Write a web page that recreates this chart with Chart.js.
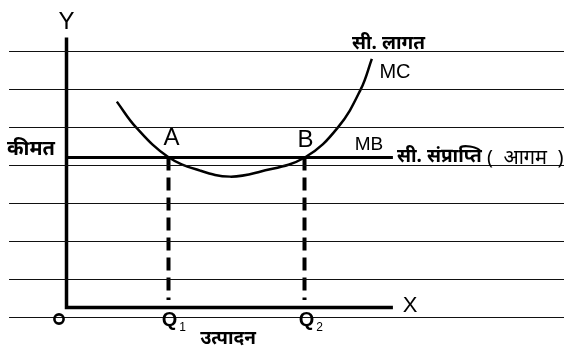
<!DOCTYPE html>
<html>
<head>
<meta charset="utf-8">
<script src="https://cdn.jsdelivr.net/npm/chart.js@4.4.1/dist/chart.umd.min.js"></script>
<style>
  html, body { margin: 0; background: #fff; }
  #wrap { width: 564px; height: 360px; }
</style>
</head>
<body>
<div id="wrap"><canvas id="chart"></canvas></div>
<script>
// diagram units: x = quantity (उत्पादन), y = price (कीमत)
const mcX = [1.48, 2.04, 2.98, 3.93, 4.81, 5.69, 7.01, 7.99, 8.66, 8.98];
const mcY = [5.49, 4.81, 4.02, 3.65, 3.49, 3.62, 4.00, 4.81, 5.83, 6.63];
const mbPrice = 4;
const q1 = 3;
const q2 = 7;
const axisXEnd = 9.6;
const axisYEnd = 7.2;
const ruledLines = [0, 1, 2, 3, 4, 5, 6, 7]; // ruled paper lines

const ink = '#000';
const latin = "'Liberation Sans', Arial, sans-serif";
const deva = "'Noto Sans', 'Lohit Devanagari', 'FreeSans', sans-serif";

const mcData = mcX.map((x, i) => ({ x: x, y: mcY[i] }));

// ruled lines as one broken line (null breaks between rows)
const ruledData = [];
ruledLines.forEach(v => {
  ruledData.push({ x: -1.69, y: v }, { x: 14.7, y: v }, { x: 14.7, y: null });
});

const labelsPlugin = {
  id: 'labels',
  afterDatasetsDraw(chart) {
    const ctx = chart.ctx;
    const xs = chart.scales.x;
    const ys = chart.scales.y;
    ctx.save();
    ctx.fillStyle = ink;
    ctx.strokeStyle = ink;
    ctx.textAlign = 'center';
    ctx.textBaseline = 'middle';

    ctx.font = '24px ' + latin;
    ctx.fillText('Y', xs.getPixelForValue(0), 22);
    ctx.font = '22px ' + latin;
    ctx.fillText('X', 410, ys.getPixelForValue(0) - 2);

    ctx.font = '24px ' + latin;
    ctx.fillText('A', xs.getPixelForValue(q1) + 3, ys.getPixelForValue(mbPrice) - 19);
    ctx.fillText('B', xs.getPixelForValue(q2) + 1, ys.getPixelForValue(mbPrice) - 17);
    ctx.font = '19px ' + latin;
    ctx.fillText('MB', 369, 145);
    ctx.font = '20px ' + latin;
    ctx.fillText('MC', 395, 72);

    // origin "o"
    ctx.lineWidth = 2.6;
    ctx.beginPath();
    ctx.arc(59, 319, 4.6, 0, Math.PI * 2);
    ctx.stroke();

    ctx.font = 'bold 20px ' + latin;
    ctx.fillText('Q', xs.getPixelForValue(q1) + 1, 320);
    ctx.fillText('Q', xs.getPixelForValue(q2) + 2, 320);
    ctx.font = '12px ' + latin;
    ctx.fillText('1', xs.getPixelForValue(q1) + 14, 328);
    ctx.fillText('2', xs.getPixelForValue(q2) + 15, 328);

    ctx.textAlign = 'left';
    ctx.font = 'bold 19px ' + deva;
    ctx.fillText('सी. लागत', 352, 44);
    ctx.font = 'bold 20px ' + deva;
    ctx.fillText('कीमत', 7, 149);
    ctx.font = 'bold 19px ' + deva;
    ctx.textBaseline = 'alphabetic';
    ctx.fillText('सी. संप्राप्ति', 397, 162);
    ctx.font = '20px ' + deva;
    ctx.fillText('(  आगम  )', 487, 164);
    ctx.textBaseline = 'middle';
    ctx.textAlign = 'center';
    ctx.font = 'bold 19px ' + deva;
    ctx.fillText('उत्पादन', 228, 339);
    ctx.restore();
  }
};

new Chart(document.getElementById('chart'), {
  type: 'line',
  data: {
    datasets: [
      {
        data: ruledData,
        yAxisID: 'yr',
        borderColor: '#111',
        borderWidth: 1,
        pointRadius: 0,
        spanGaps: false
      },
      {
        data: [{ x: 0, y: axisYEnd }, { x: 0, y: 0 }, { x: axisXEnd, y: 0 }],
        borderColor: ink,
        borderWidth: 3.5,
        borderJoinStyle: 'miter',
        pointRadius: 0
      },
      {
        data: [{ x: 0, y: mbPrice }, { x: axisXEnd, y: mbPrice }],
        borderColor: ink,
        borderWidth: 3,
        pointRadius: 0
      },
      {
        data: [{ x: q1, y: mbPrice }, { x: q1, y: 0.2 }],
        borderColor: ink,
        borderWidth: 4,
        borderDash: [13, 7],
        pointRadius: 0
      },
      {
        data: [{ x: q2, y: mbPrice }, { x: q2, y: 0.2 }],
        borderColor: ink,
        borderWidth: 4,
        borderDash: [13, 7],
        pointRadius: 0
      },
      {
        data: mcData,
        borderColor: ink,
        borderWidth: 2.5,
        tension: 0.4,
        pointRadius: 0
      }
    ]
  },
  options: {
    responsive: true,
    maintainAspectRatio: false,
    animation: false,
    layout: { padding: 0 },
    plugins: { legend: { display: false }, tooltip: { enabled: false } },
    scales: {
      x: { type: 'linear', display: false, min: -1.956, max: 14.632 },
      y: { type: 'linear', display: false, min: -1.4, max: 8.2 },
      yr: { type: 'linear', display: false, min: -1.1184, max: 8.3553 }
    }
  },
  plugins: [labelsPlugin]
});
</script>
</body>
</html>
